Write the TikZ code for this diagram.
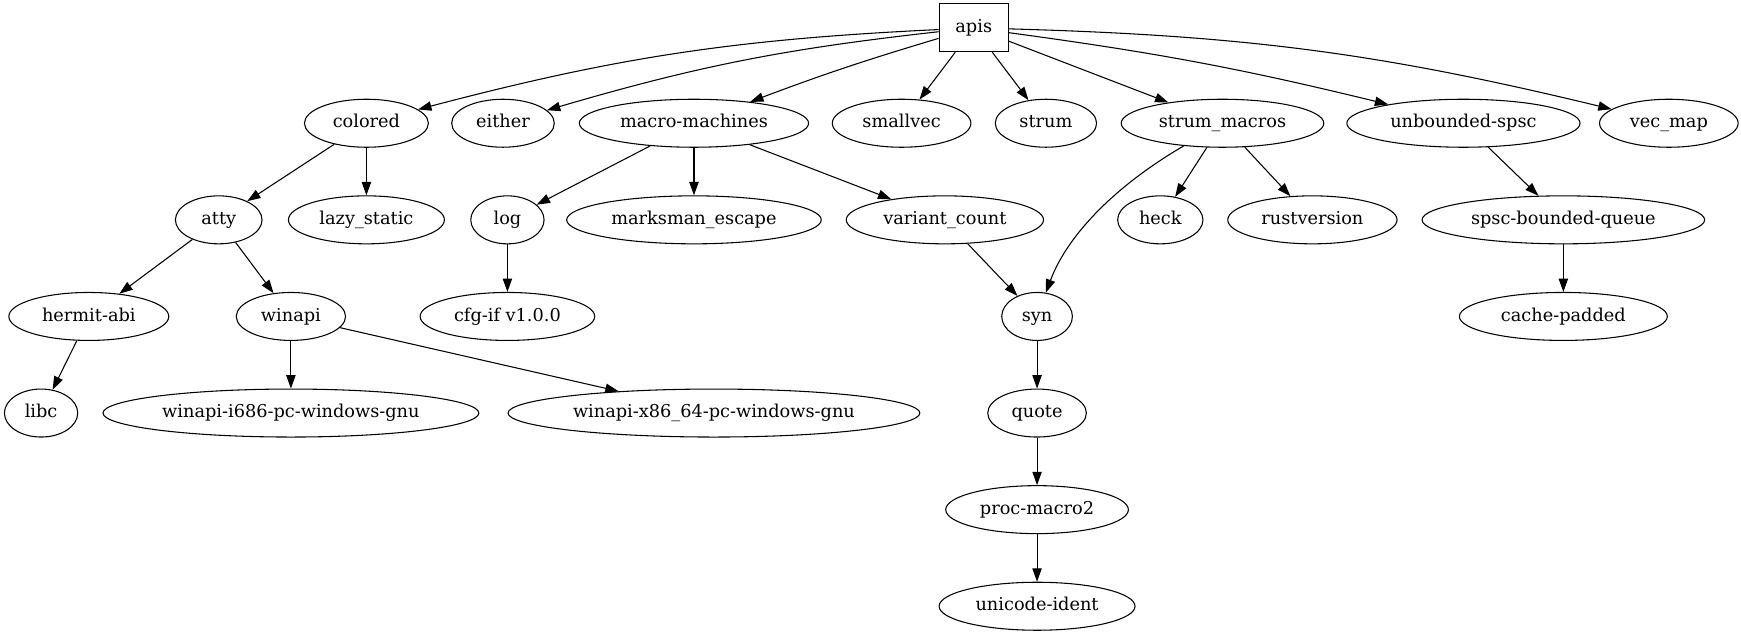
\documentclass[tikz,border=0pt]{standalone}
\usepackage{fontspec}
\setmainfont{DejaVu Serif}
\usepackage{tikz}
\usetikzlibrary{positioning, arrows.meta, shapes.geometric}

\begin{document}
\begin{tikzpicture}[
    x=0.833pt, y=-0.833pt,
    crate/.style={draw, ellipse, inner sep=0pt, minimum height=36pt, line width=0.8pt,
                  font=\fontsize{13.3}{16}\selectfont, text height=9.5pt, text depth=2.5pt},
    root/.style={draw, rectangle, minimum width=52pt, minimum height=36pt, line width=0.8pt,
                 font=\fontsize{13.3}{16}\selectfont, text height=9.5pt, text depth=2.5pt},
    dep/.style={-{Triangle[length=10pt, width=7pt]}, line width=0.8pt},
]

\useasboundingbox (0,0) rectangle (1568,572);

% Root crate
\node[root] (apis) at (877,25) {apis};

% Direct dependencies
\node[crate, minimum width=93pt]  (colored)   at (330,111)  {colored};
\node[crate, minimum width=77pt]  (either)    at (453,111)  {either};
\node[crate, minimum width=172pt] (macromach) at (625,111)  {macro-machines};
\node[crate, minimum width=104pt] (smallvec)  at (812,111)  {smallvec};
\node[crate, minimum width=76pt]  (strum)     at (942,111)  {strum};
\node[crate, minimum width=152pt] (strummac)  at (1101,111) {strum\_macros};
\node[crate, minimum width=175pt] (unbspsc)   at (1318,111) {unbounded-spsc};
\node[crate, minimum width=104pt] (vecmap)    at (1503,111) {vec\_map};

% Second level
\node[crate, minimum width=65pt]  (atty)      at (197,198)  {atty};
\node[crate, minimum width=117pt] (lazy)      at (330,198)  {lazy\_static};
\node[crate, minimum width=55pt]  (log)       at (457,198)  {log};
\node[crate, minimum width=191pt] (marksman)  at (625,198)  {marksman\_escape};
\node[crate, minimum width=148pt] (variant)   at (851,198)  {variant\_count};
\node[crate, minimum width=64pt]  (heck)      at (1045,198) {heck};
\node[crate, minimum width=127pt] (rustver)   at (1182,198) {rustversion};
\node[crate, minimum width=212pt] (spscbq)    at (1408,198) {spsc-bounded-queue};

% Third level
\node[crate, minimum width=120pt] (hermit)    at (80,285)   {hermit-abi};
\node[crate, minimum width=82pt]  (winapi)    at (262,285)  {winapi};
\node[crate, minimum width=131pt] (cfgif)     at (457,285)  {cfg-if v1.0.0};
\node[crate, minimum width=53pt]  (syn)       at (934,285)  {syn};
\node[crate, minimum width=156pt] (cachepad)  at (1408,285) {cache-padded};

% Fourth level and below
\node[crate, minimum width=55pt]  (libc)      at (37,372)   {libc};
\node[crate, minimum width=282pt] (wini686)   at (262,372)  {winapi-i686-pc-windows-gnu};
\node[crate, minimum width=309pt] (winx64)    at (643,372)  {winapi-x86\_64-pc-windows-gnu};
\node[crate, minimum width=74pt]  (quote)     at (934,372)  {quote};
\node[crate, minimum width=137pt] (procmac)   at (934,459)  {proc-macro2};
\node[crate, minimum width=147pt] (unicode)   at (934,546)  {unicode-ident};

% Edges from the root
\draw[dep] (apis) to[bend right=6] (colored);
\draw[dep] (apis) to[bend right=5] (either);
\draw[dep] (apis) to[bend right=2] (macromach);
\draw[dep] (apis) -- (smallvec);
\draw[dep] (apis) -- (strum);
\draw[dep] (apis) -- (strummac);
\draw[dep] (apis) to[bend left=3] (unbspsc);
\draw[dep] (apis) to[bend left=6] (vecmap);

% Remaining edges
\draw[dep] (colored) -- (atty);
\draw[dep] (colored) -- (lazy);
\draw[dep] (macromach) -- (log);
\draw[dep] (macromach) -- (marksman);
\draw[dep] (macromach) -- (variant);
\draw[dep] (variant) -- (syn);
\draw[dep] (strummac) .. controls (1000,170) and (960,215) .. (syn);
\draw[dep] (strummac) -- (heck);
\draw[dep] (strummac) -- (rustver);
\draw[dep] (unbspsc) -- (spscbq);
\draw[dep] (spscbq) -- (cachepad);
\draw[dep] (atty) -- (hermit);
\draw[dep] (atty) -- (winapi);
\draw[dep] (log) -- (cfgif);
\draw[dep] (hermit) -- (libc);
\draw[dep] (winapi) -- (wini686);
\draw[dep] (winapi) -- (winx64);
\draw[dep] (syn) -- (quote);
\draw[dep] (quote) -- (procmac);
\draw[dep] (procmac) -- (unicode);

\end{tikzpicture}
\end{document}
